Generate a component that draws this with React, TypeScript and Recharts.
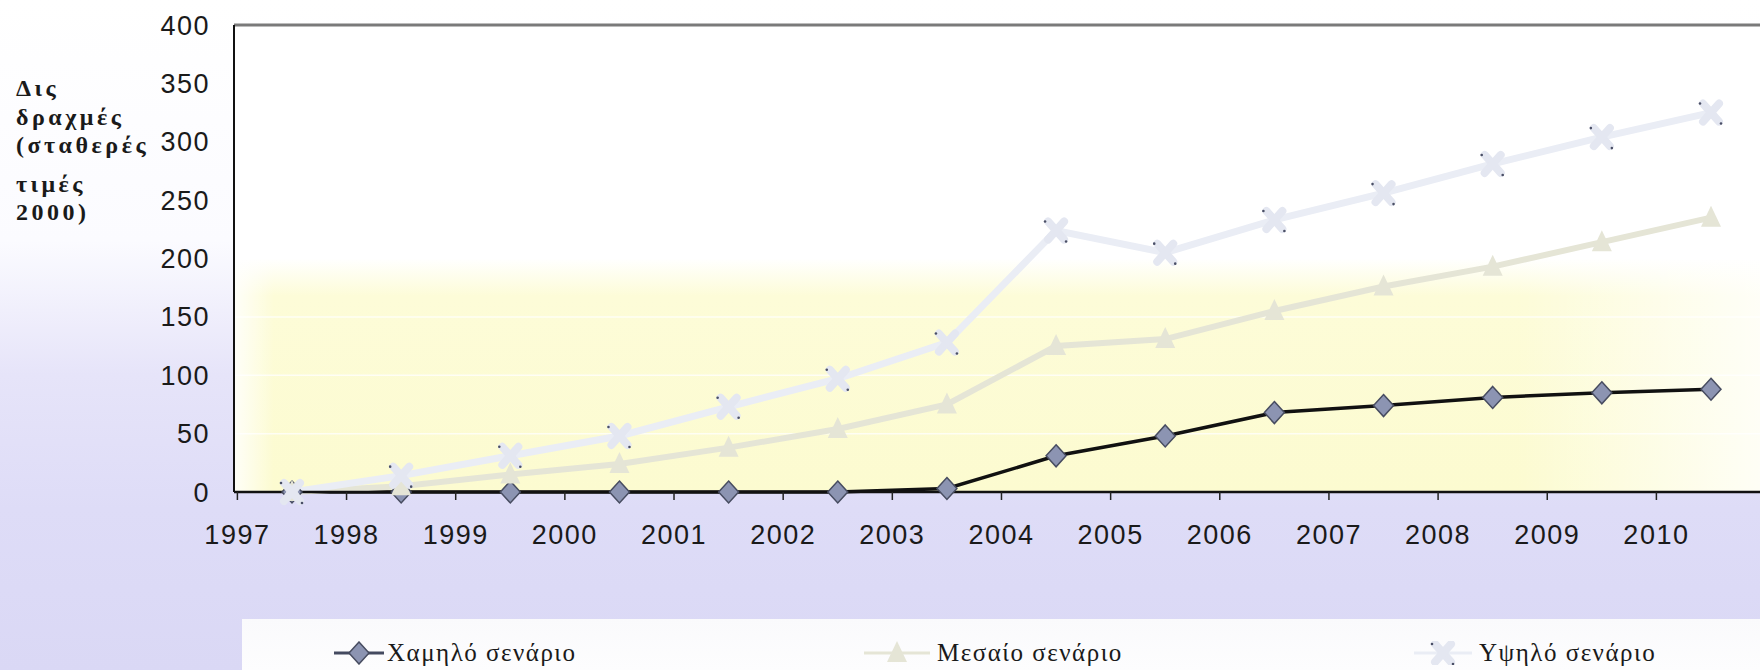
import { LineChart, Line, XAxis, YAxis, CartesianGrid, ReferenceLine } from 'recharts';

const years = ['1997', '1998', '1999', '2000', '2001', '2002', '2003', '2004', '2005', '2006', '2007', '2008', '2009', '2010'];
const lowScenario = [0, 0, 0, 0, 0, 0, 3, 31, 48, 68, 74, 81, 85, 88];
const midScenario = [0, 5, 15, 24, 38, 54, 75, 125, 131, 155, 176, 193, 214, 235];
const highScenario = [0, 14, 31, 48, 73, 97, 128, 224, 205, 233, 256, 281, 304, 325];
const yTicks = [0, 50, 100, 150, 200, 250, 300, 350, 400];
const yLabelLines = ['Δις', 'δραχμές', '(σταθερές', 'τιμές', '2000)'];
const seriesNames = ['Χαμηλό σενάριο', 'Μεσαίο σενάριο', 'Υψηλό σενάριο'];

const data = years.map((year, i) => ({
    year,
    low: lowScenario[i],
    mid: midScenario[i],
    high: highScenario[i],
}));

const HALF_BAND = 54.6;
const sans = '"Liberation Sans", Arial, sans-serif';
const serif = '"Liberation Serif", "Times New Roman", serif';

const lowColor = '#111111';
const midColor = '#e5e5d6';
const highColor = '#eaedf5';

const diamond = (cx: number, cy: number) => (
    <polygon
        points={`${cx},${cy - 11} ${cx + 10},${cy} ${cx},${cy + 11} ${cx - 10},${cy}`}
        fill="#8c94b2"
        stroke="#474c60"
        strokeWidth={1.5}
    />
);

const triangle = (cx: number, cy: number) => (
    <polygon
        points={`${cx},${cy - 12} ${cx + 10},${cy + 9} ${cx - 10},${cy + 9}`}
        fill={midColor}
    />
);

const cross = (cx: number, cy: number) => (
    <g>
        <line x1={cx - 8} y1={cy - 9} x2={cx + 8} y2={cy + 9} stroke="#e4e7f1" strokeWidth={8} strokeLinecap="round" />
        <line x1={cx + 8} y1={cy - 9} x2={cx - 8} y2={cy + 9} stroke="#e4e7f1" strokeWidth={8} strokeLinecap="round" />
        <circle cx={cx - 11} cy={cy - 9} r={1.3} fill="#4a4f66" />
        <circle cx={cx + 10} cy={cy + 11} r={1.3} fill="#4a4f66" />
    </g>
);

const dotOf = (shape: (cx: number, cy: number) => any) => (props: any) => {
    const { cx, cy, index } = props;
    if (cx == null || cy == null) return <g key={index} />;
    return <g key={index}>{shape(cx, cy)}</g>;
};

const XTick = (props: any) => {
    const { x, y, payload } = props;
    const edge = x - HALF_BAND;
    return (
        <g>
            <line x1={edge} y1={y} x2={edge} y2={y + 8} stroke="#222" strokeWidth={1.5} />
            <text
                x={edge}
                y={y + 43}
                textAnchor="middle"
                dominantBaseline="central"
                fill="#1a1a1a"
                fontSize={27}
                fontFamily={sans}
                letterSpacing={1.5}
            >
                {payload.value}
            </text>
        </g>
    );
};

const LegendItem = ({ left, textLeft, label, shape, color, width }: any) => (
    <>
        <svg style={{ position: 'absolute', left, top: 641, width: 70, height: 24 }}>
            <line x1={0} y1={12} x2={width} y2={12} stroke={color} strokeWidth={3} />
            {shape(width / 2, 12)}
        </svg>
        <div
            style={{
                position: 'absolute',
                left: textLeft,
                top: 638,
                fontFamily: serif,
                fontSize: 25,
                letterSpacing: 1.5,
                color: '#1a1a1a',
                lineHeight: '30px',
                whiteSpace: 'nowrap',
            }}
        >
            {label}
        </div>
    </>
);

export default function App() {
    return (
        <div
            style={{
                position: 'absolute',
                left: 0,
                top: 0,
                width: 1760,
                height: 670,
                overflow: 'hidden',
                background:
                    'linear-gradient(to bottom, #ffffff 0%, #fbfbff 36%, #e6e4f9 56%, #dedcf7 76%, #dad8f5 100%)',
            }}
        >
            <div
                style={{
                    position: 'absolute',
                    left: 234,
                    top: 25,
                    width: 1526,
                    height: 467,
                    background:
                        'linear-gradient(to right, rgba(255,255,255,0.85) 0px, rgba(255,255,255,0) 40px), ' +
                        'linear-gradient(to right, rgba(255,255,255,0) 84%, rgba(255,255,255,0.8) 100%), ' +
                        'linear-gradient(to bottom, #ffffff 0%, #ffffff 50%, #fdfcd8 58%, #fcfbd0 100%)',
                }}
            />
            <svg style={{ position: 'absolute', left: 0, top: 0, width: 230, height: 240 }}>
                {yLabelLines.map((line, i) => (
                    <text
                        key={line}
                        x={16}
                        y={[96, 125, 153, 192, 220][i]}
                        fontFamily={serif}
                        fontWeight="bold"
                        fontSize={24}
                        letterSpacing={3.5}
                        fill="#1a1a1a"
                    >
                        {line}
                    </text>
                ))}
            </svg>
            <div style={{ position: 'absolute', left: 0, top: 0 }}>
                <LineChart width={1760} height={670} data={data} margin={{ top: 25, right: 0, left: 0, bottom: 118 }}>
                    <CartesianGrid horizontal vertical={false} stroke="#ffffff" strokeOpacity={0.75} strokeWidth={1.5} />
                    <XAxis
                        dataKey="year"
                        height={60}
                        padding={{ left: 58, right: 49 }}
                        axisLine={{ stroke: '#111', strokeWidth: 2.5 }}
                        tickLine={false}
                        tickSize={0}
                        tickMargin={0}
                        interval={0}
                        tick={<XTick />}
                    />
                    <YAxis
                        width={234}
                        domain={[0, 400]}
                        ticks={yTicks}
                        axisLine={{ stroke: '#111', strokeWidth: 2 }}
                        tickLine={false}
                        tickSize={0}
                        tickMargin={24}
                        tick={{ fill: '#1a1a1a', fontSize: 27, fontFamily: sans, letterSpacing: 1.5 }}
                    />
                    <ReferenceLine y={400} stroke="#7a7a7a" strokeWidth={3} />
                    <Line
                        dataKey="low"
                        stroke={lowColor}
                        strokeWidth={3.5}
                        dot={dotOf(diamond)}
                        activeDot={false}
                        isAnimationActive={false}
                    />
                    <Line
                        dataKey="mid"
                        stroke={midColor}
                        strokeWidth={6}
                        dot={dotOf(triangle)}
                        activeDot={false}
                        isAnimationActive={false}
                    />
                    <Line
                        dataKey="high"
                        stroke={highColor}
                        strokeWidth={7}
                        dot={dotOf(cross)}
                        activeDot={false}
                        isAnimationActive={false}
                    />
                </LineChart>
            </div>
            <div
                style={{
                    position: 'absolute',
                    left: 242,
                    top: 619,
                    width: 1518,
                    height: 51,
                    background: 'linear-gradient(to bottom, #fafafc, #fdfdfe)',
                }}
            />
            <LegendItem left={334} textLeft={387} label={seriesNames[0]} shape={diamond} color="#444a60" width={50} />
            <LegendItem left={864} textLeft={937} label={seriesNames[1]} shape={triangle} color={midColor} width={66} />
            <LegendItem left={1414} textLeft={1479} label={seriesNames[2]} shape={cross} color={highColor} width={58} />
        </div>
    );
}
